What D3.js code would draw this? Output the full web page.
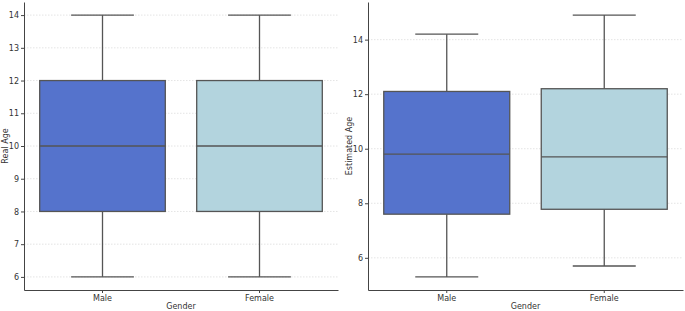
<!DOCTYPE html>
<html>
<head>
<meta charset="utf-8">
<script src="https://cdn.jsdelivr.net/npm/d3@7"></script>
<style>
  body { margin: 0; background: #fff; }
  text { font-family: "DejaVu Sans", sans-serif; fill: #333; }
</style>
</head>
<body>
<div id="chart"></div>
<script>
// data
const genders = ["Male", "Female"];
const realAge = [
  { lo: 6, q1: 8, med: 10, q3: 12, hi: 14 },
  { lo: 6, q1: 8, med: 10, q3: 12, hi: 14 }
];
const estAge = [
  { lo: 5.3, q1: 7.6, med: 9.8, q3: 12.1, hi: 14.2 },
  { lo: 5.7, q1: 7.78, med: 9.7, q3: 12.2, hi: 14.9 }
];
const realTicks = [6, 7, 8, 9, 10, 11, 12, 13, 14];
const estTicks = [6, 8, 10, 12, 14];
const colors = ["#5573cc", "#b3d4de"];

const W = 685, H = 311;
const svg = d3.select("#chart").append("svg").attr("width", W).attr("height", H);

function panel(x0, x1, y0, y1, boxes, ticks, ylabel, labelX) {
  const lo = d3.min(boxes, d => d.lo), hi = d3.max(boxes, d => d.hi);
  const pad = (hi - lo) * 0.05;
  const y = d3.scaleLinear().domain([lo - pad, hi + pad]).range([y1, y0]);
  const x = d3.scaleBand().domain(genders).range([x0, x1]);
  const g = svg.append("g");

  // grid
  g.selectAll(".grid").data(ticks).join("line")
    .attr("x1", x0).attr("x2", x1)
    .attr("y1", d => y(d)).attr("y2", d => y(d))
    .attr("stroke", "#ddd").attr("stroke-width", 0.8)
    .attr("stroke-dasharray", "1.5,1.5");

  const bw = x.bandwidth() * 0.8;
  const items = g.selectAll(".box").data(boxes).join("g");
  const cx = (d, i) => x(genders[i]) + x.bandwidth() / 2;

  items.append("line")
    .attr("x1", cx).attr("x2", cx)
    .attr("y1", d => y(d.hi)).attr("y2", d => y(d.q3))
    .attr("stroke", "#555").attr("stroke-width", 1.3);
  items.append("line")
    .attr("x1", cx).attr("x2", cx)
    .attr("y1", d => y(d.q1)).attr("y2", d => y(d.lo))
    .attr("stroke", "#555").attr("stroke-width", 1.3);
  ["hi", "lo"].forEach(k => {
    items.append("line")
      .attr("x1", (d, i) => cx(d, i) - bw / 4).attr("x2", (d, i) => cx(d, i) + bw / 4)
      .attr("y1", d => y(d[k])).attr("y2", d => y(d[k]))
      .attr("stroke", "#555").attr("stroke-width", 1.3);
  });
  items.append("rect")
    .attr("x", (d, i) => cx(d, i) - bw / 2).attr("width", bw)
    .attr("y", d => y(d.q3)).attr("height", d => y(d.q1) - y(d.q3))
    .attr("fill", (d, i) => colors[i])
    .attr("stroke", "#555").attr("stroke-width", 1.3);
  items.append("line")
    .attr("x1", (d, i) => cx(d, i) - bw / 2).attr("x2", (d, i) => cx(d, i) + bw / 2)
    .attr("y1", d => y(d.med)).attr("y2", d => y(d.med))
    .attr("stroke", "#555").attr("stroke-width", 1.3);

  // axes
  const yAxis = g.append("g").attr("transform", `translate(${x0},0)`)
    .call(d3.axisLeft(y).tickValues(ticks).tickSizeInner(3).tickSizeOuter(0).tickPadding(2).tickFormat(d3.format("d")));
  const xAxis = g.append("g").attr("transform", `translate(0,${y1})`)
    .call(d3.axisBottom(x).tickSizeInner(3).tickSizeOuter(0).tickPadding(2));
  [yAxis, xAxis].forEach(a => {
    a.select(".domain").attr("stroke", "#444").attr("stroke-width", 1);
    a.selectAll(".tick line").attr("stroke", "#444");
    a.selectAll("text").style("font-size", "8px").attr("fill", "#333");
  });

  g.append("text")
    .attr("x", (x0 + x1) / 2).attr("y", 309)
    .attr("text-anchor", "middle").style("font-size", "8px")
    .text("Gender");
  g.append("text")
    .attr("transform", `translate(${labelX},${(y0 + y1) / 2}) rotate(-90)`)
    .attr("text-anchor", "middle").style("font-size", "8px")
    .text(ylabel);
}

panel(24, 338, 2, 290, realAge, realTicks, "Real Age", 8);
panel(368, 683, 2, 290, estAge, estTicks, "Estimated Age", 352);
</script>
</body>
</html>
